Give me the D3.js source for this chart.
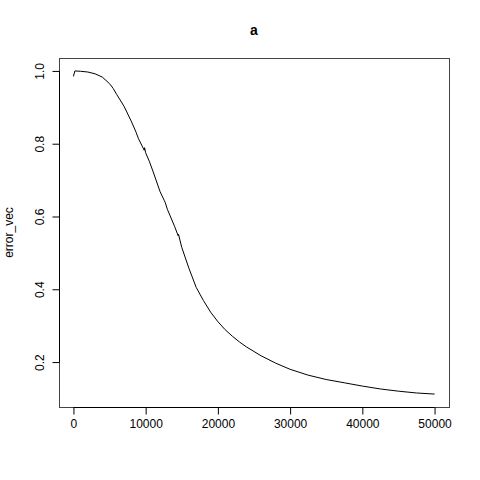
<!DOCTYPE html>
<html>
<head>
<meta charset="utf-8">
<script src="https://cdn.jsdelivr.net/npm/d3@7"></script>
<style>
  body { margin: 0; background: #fff; }
  text { font-family: "Liberation Sans", Arial, sans-serif; }
</style>
</head>
<body>
<svg id="chart" width="480" height="480"></svg>
<script>
// values
const iterations = [0, 200, 1000, 2000, 3000, 4000, 5000, 5500, 6000, 7000, 8000, 8600, 8700, 9000,
  9800, 9850, 10000, 10500, 11000, 12000, 12600, 12700, 13000, 14000, 14500, 14550, 15000, 16000, 17000,
  18000, 19000, 20000, 21000, 22000, 23000, 24000, 26000, 28000, 30000, 32500, 35000, 37500, 40000,
  42500, 45000, 47500, 50000];
const errorVec = [0.985, 1.0, 0.999, 0.997, 0.992, 0.983, 0.965, 0.952, 0.935, 0.903, 0.862, 0.835, 0.830, 0.814,
  0.782, 0.789, 0.775, 0.752, 0.725, 0.668, 0.643, 0.639, 0.620, 0.573, 0.547, 0.551, 0.515, 0.457, 0.405,
  0.369, 0.337, 0.311, 0.289, 0.271, 0.255, 0.241, 0.217, 0.197, 0.180, 0.164, 0.152, 0.143, 0.134,
  0.126, 0.120, 0.115, 0.112];
const xTicks = [0, 10000, 20000, 30000, 40000, 50000];
const yTicks = [0.2, 0.4, 0.6, 0.8, 1.0];

const box = { left: 59, right: 449, top: 58, bottom: 407 };
const svg = d3.select("#chart");

// R style 4% padding on both axes
function padded(ext) {
  const d = (ext[1] - ext[0]) * 0.04;
  return [ext[0] - d, ext[1] + d];
}
const x = d3.scaleLinear().domain(padded(d3.extent(iterations))).range([box.left, box.right]);
const y = d3.scaleLinear().domain(padded(d3.extent(errorVec))).range([box.bottom, box.top]);

const data = iterations.map((d, i) => ({ x: d, y: errorVec[i] }));

svg.append("path")
  .datum(data)
  .attr("fill", "none")
  .attr("stroke", "#000")
  .attr("stroke-width", 1)
  .attr("d", d3.line().x(d => x(d.x)).y(d => y(d.y)));

// plot frame
svg.append("rect")
  .attr("x", box.left + 0.5)
  .attr("y", box.top + 0.5)
  .attr("width", box.right - box.left)
  .attr("height", box.bottom - box.top)
  .attr("fill", "none")
  .attr("stroke", "#444");

// x axis
const xAxis = svg.append("g").attr("transform", "translate(0," + (box.bottom + 0.5) + ")")
  .call(d3.axisBottom(x).tickValues(xTicks).tickSize(7).tickPadding(5).tickFormat(d3.format("d")));
xAxis.select(".domain").attr("d", "M" + x(xTicks[0]) + ",0H" + x(xTicks[xTicks.length - 1])).attr("stroke", "#000");
xAxis.selectAll("text").attr("font-size", 12).attr("fill", "#000").attr("font-family", "Liberation Sans, Arial, sans-serif");

// y axis
const yAxis = svg.append("g").attr("transform", "translate(" + (box.left + 0.5) + ",0)")
  .call(d3.axisLeft(y).tickValues(yTicks).tickSize(7).tickFormat(d3.format(".1f")));
yAxis.select(".domain").attr("d", "M0," + y(yTicks[0]) + "V" + y(yTicks[yTicks.length - 1])).attr("stroke", "#000");
yAxis.selectAll("text")
  .attr("font-size", 12)
  .attr("fill", "#000")
  .attr("font-family", "Liberation Sans, Arial, sans-serif")
  .attr("text-anchor", "middle")
  .attr("dy", null)
  .attr("x", 0)
  .attr("transform", "translate(-16,0) rotate(-90)");

// labels
svg.append("text")
  .attr("x", (box.left + box.right) / 2)
  .attr("y", 35)
  .attr("text-anchor", "middle")
  .attr("font-size", 14)
  .attr("font-weight", "bold")
  .text("a");

svg.append("text")
  .attr("transform", "translate(13," + (box.top + box.bottom) / 2 + ") rotate(-90)")
  .attr("text-anchor", "middle")
  .attr("font-size", 12)
  .text("error_vec");
</script>
</body>
</html>
